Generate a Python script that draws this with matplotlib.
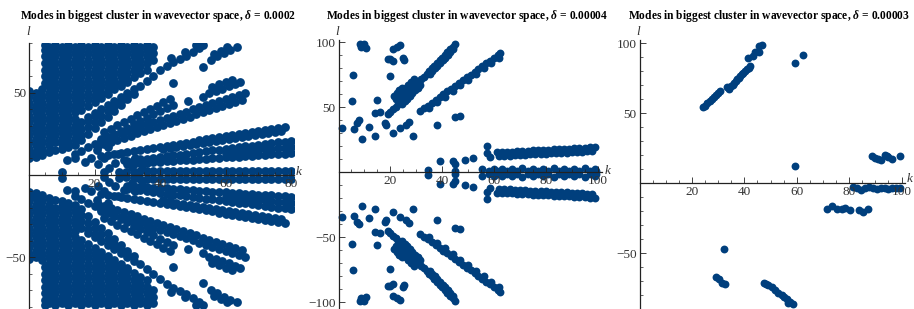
import matplotlib
matplotlib.use('Agg')
import matplotlib.pyplot as plt
from matplotlib.ticker import FixedLocator, MultipleLocator

plt.rcParams['font.family'] = 'Liberation Serif'
plt.rcParams['mathtext.fontset'] = 'custom'
plt.rcParams['mathtext.it'] = 'Liberation Serif:italic:bold'
plt.rcParams['mathtext.rm'] = 'Liberation Serif:bold'

dot_color = '#003f7d'

# ---- panel 1, delta = 0.0002 (upper half, the cluster is mirrored in l) ----
# dense fan in the upper left, as columns (k, [l ...])
p1_fan_cols = [
    (0, [10.5, 13, 16, 20, 24, 28, 32, 36, 40, 44, 48, 51]),
    (2, [11, 14, 18, 22, 26, 30, 34, 38, 42, 46, 50]),
    (4, [12, 16, 20, 24, 28, 32, 36, 40, 44, 48, 52]),
    (5, [56, 60, 64, 68, 72, 76, 79]),
    (6, [14, 18, 22, 26, 30, 34, 38, 42, 46, 50, 54, 58, 62, 66, 70, 74, 78]),
    (8, [15, 20, 24, 28, 32, 36, 40, 44, 48, 52, 56, 60, 64, 68, 72, 76, 79]),
    (10, [16, 19, 22, 26, 30, 34, 38, 42, 46, 50, 54, 58, 62, 66, 70, 74, 78]),
    (12, [17, 20, 24, 28, 32, 36, 40, 44, 48, 52, 56, 60, 64, 68, 72, 76, 79]),
    (14, [18, 22, 26, 30, 34, 38, 42, 46, 50, 54, 58, 62, 66, 70, 74, 78]),
    (16, [21, 24.5, 28, 32, 39.5, 44, 48, 52, 56, 60, 64, 68, 72, 76, 79]),
    (18, [25, 29, 33, 35, 42, 46, 50, 54, 58, 62, 66, 70, 74, 78]),
    (20, [28.5, 32, 36, 37.5, 44.5, 48, 52, 56, 60, 64, 68, 72, 76, 79]),
    (22, [32, 36, 40, 47, 50, 54, 58, 62, 66, 70, 74, 78]),
    (24, [35.5, 39, 42.5, 49.5, 52, 56, 60, 64, 68, 72, 76, 79]),
    (26, [39, 42, 45, 52, 55, 58, 62, 66, 70, 74, 78]),
    (28, [42.5, 45, 47.5, 54, 56, 60, 64, 68, 72, 76, 79]),
    (30, [46, 48, 50, 56.5, 58, 62, 66, 70, 74, 78]),
    (32, [49.5, 52.5, 59.5, 64, 68, 72, 76, 79]),
    (34, [54, 62, 66, 70, 74, 78]),
    (36, [57, 64, 68, 72, 76, 79]),
    (38, [60, 70, 74, 78]),
    (40, [63.5]),
]
p1_band_p = [(42, 66.5), (44, 68.5), (46, 70.5), (48, 72.5), (50, 75), (52, 77),
             (53, 79), (43.5, 71), (47.5, 74.5), (51, 79)]
p1_band_q = [(55.5, 70), (57.5, 72), (59.5, 74), (61.5, 76), (63.5, 77.5),
             (56.5, 73.5), (58.5, 75.5), (60.5, 77.5)]
p1_band_b = [(14, 12.8), (16, 14.8), (18, 16.8), (20, 18.8), (22, 20.8), (24, 22.8),
             (26, 24.8), (28, 26.8), (30, 28.8), (32, 30.8), (34, 32.8), (36, 34.8),
             (38, 36.8), (40, 38.8), (42, 40.8), (44, 42.8),
             (23, 26.2), (25, 28.2), (27, 30.2), (29, 32.2), (31, 34.2), (33, 36.2),
             (35, 38.2), (37, 40.2), (39, 42.2), (41, 44.2), (43, 46.2)]
p1_band_m2 = [(48.5, 45), (53.2, 47.6), (55, 49.6), (57, 51), (59, 52.4), (61, 53.8),
              (63, 55.3), (64.5, 56.5), (56, 53.5), (58, 55), (60, 56.4), (62, 57.8)]
p1_blobs = [(44, 55.7), (53.2, 65.8)]
p1_band_m1 = [(21, 17.5), (23, 18.8), (25, 20.1), (27, 21.4), (29, 22.7), (31, 23.9),
              (33, 25.2), (35, 26.5), (37, 27.8), (39, 29.1), (41, 30.4), (43, 31.7),
              (45, 33), (47, 34.2), (49, 35.5), (51, 36.8), (53, 38.1), (55, 39.4),
              (57, 40.7), (59, 42), (61, 43.3), (63, 44.6), (65, 45.8),
              (22, 21.7), (24, 23), (26, 24.3), (28, 25.6), (30, 26.9), (32, 28.2),
              (34, 29.5), (36, 30.8), (38, 32), (40, 33.3), (42, 34.6), (44, 35.9),
              (46, 37.2), (48, 38.5), (50, 39.8), (52, 41.1), (54, 42.4), (56, 43.6),
              (58, 44.9), (60, 46.2), (62, 47.5), (64, 48.8), (66, 50.1)]
p1_band_t1 = [(22, 11.4), (24, 12.1), (26, 12.7), (28, 13.3), (30, 14), (32, 14.6),
              (34, 15.2), (36, 15.9), (38, 16.5), (40, 17.2), (42, 17.8), (44, 18.4),
              (46, 19.1), (48, 19.7), (50, 20.3), (52, 21), (54, 21.6), (56, 22.2),
              (58, 22.9), (60, 23.5), (62, 24.1), (64, 24.8), (66, 25.4), (68, 26.1),
              (70, 26.7), (72, 27.3), (74, 28), (76, 28.6), (78, 29.2),
              (41, 15.5), (43, 16.1), (45, 16.8), (47, 17.4), (49, 18.1), (51, 18.7),
              (53, 19.3), (55, 20), (57, 20.6), (59, 21.2), (61, 21.9), (63, 22.5),
              (65, 23.1), (67, 23.8), (69, 24.4), (71, 25), (73, 25.7), (75, 26.3),
              (77, 26.9)]
p1_band_t2 = [(30, 6.7), (30, 8.5), (32, 6.9), (32, 8.9), (34, 7.2), (34, 9.4),
              (36, 7.4), (36, 9.9), (38, 7.7), (38, 10.5), (40, 7.9), (40, 10.9),
              (42, 8.2), (42, 11.4), (44, 8.5), (44, 11.9), (46, 8.8), (46, 12.4),
              (48, 9.1), (48, 12.9), (50, 9.3), (50, 13.3), (52, 9.6), (52, 13.9),
              (54, 9.8), (54, 14.4), (56, 10.1), (56, 14.9), (58, 10.3), (58, 15.3),
              (60, 10.6), (60, 13.2), (60, 15.8), (62, 10.9), (62, 13.6), (62, 16.3),
              (64, 11.2), (64, 14), (64, 16.8), (66, 11.5), (66, 14.4), (66, 17.3),
              (68, 11.7), (68, 14.7), (68, 17.7), (70, 12), (70, 15.1), (70, 18.3),
              (72, 12.2), (72, 15.5), (72, 18.8), (74, 12.5), (74, 15.9), (74, 19.3),
              (76, 12.8), (76, 16.3), (76, 19.8), (78, 13), (78, 16.6), (78, 20.2),
              (80, 13.3), (80, 17), (80, 20.7)]
p1_band_t3 = [(10, 2), (23, 1.5), (27.5, 2), (29.5, 1.5), (32, 2), (34, 2.5),
              (36, 2.5), (38, 2.5), (40, 2.5), (42, 2.5), (44, 2.5), (46, 2.5),
              (48, 2.5), (50, 2.5), (52, 2.5), (54, 2.5), (56, 2.5), (58, 2.5),
              (60, 2.5), (62, 2.5), (64, 2.5), (66, 2.5), (68, 2.5), (70, 2.5),
              (72, 2.5), (74, 2.5), (76, 2.5), (78, 2.5), (80, 2.5)]
p1_core = [(11.5, 9), (14, 10), (17, 8), (19, 10), (21, 6.5), (23, 10), (24.5, 4.5),
           (26.3, 7), (27.3, 13), (29, 9), (31.4, 5), (32.4, 10), (34.4, 6),
           (20.7, 15), (24.2, 17)]

# ---- panel 2, delta = 0.00004 (upper half, mirrored in l) ----
p2_scatter = [(1.2, 34.5), (5.7, 75), (5.1, 54.8), (6.1, 33.7), (7.3, 38.3), (8, 40),
              (8.2, 99), (8.5, 96.5), (10, 98.5), (10.5, 96), (9, 25.6), (11.9, 35),
              (14.1, 28), (15, 56), (14.1, 45.4), (16, 46.4), (18, 38.3), (18.2, 36.5),
              (19, 87), (19.9, 87.5), (21, 85.5), (19.9, 74.4), (21.2, 94.8),
              (22.7, 96.8), (23.7, 98), (20.9, 30.7), (25, 88), (25.2, 86.5),
              (23.7, 34.5), (26, 36.3), (27.3, 38.8), (28.9, 28.1), (37.9, 36.3),
              (45, 42.9), (46.9, 43.4)]
p2_steep = [(19.2, 44.7), (20, 46.4), (21, 48.5), (22, 50.6), (23, 52.7), (24, 54.8),
            (25, 56.9), (26, 59), (27, 61.1), (28, 63.2), (29, 65.3), (30, 67.4),
            (31, 69.5), (32, 71.6), (33, 73.7), (34, 75.7), (35, 77.9), (36, 80),
            (37, 82.1), (38, 84.2), (39, 86.3), (40, 88.4), (41, 90.5), (42, 92.6),
            (43, 94.7), (44, 96.8), (45, 98.9),
            (22, 56.9), (23, 59), (24, 61.1), (25, 63.2), (26, 65.3), (27, 67.4),
            (28, 69.5), (29, 71.6), (21.5, 59), (22.5, 61.1), (23.5, 63.2),
            (24.5, 65.3), (24.5, 52.7), (25.5, 54.8), (26.5, 56.9), (27.5, 59),
            (28.5, 61.1), (29.5, 63.2), (30.5, 65.3), (31.5, 67.4),
            (35.2, 75.7), (36.2, 77.9), (37.2, 80), (38.2, 82.1), (39.2, 84.2),
            (40.2, 86.3), (41.2, 88.4), (42.2, 90.5), (43.2, 92.6), (44.2, 94.7)]
p2_band = [(31.5, 47.2), (33, 49.4), (34.5, 51.5), (36, 53.7), (37.5, 55.8), (39, 58),
           (40.5, 60.2), (42, 62.3), (43.5, 64.5), (45, 66.6), (46.5, 68.8), (48, 71),
           (49.5, 73.1), (51, 75.3), (52.5, 77.4), (54, 79.6), (55.5, 81.8), (57, 83.9),
           (58.5, 86.1), (60, 88.2), (61.5, 90.4), (62.4, 91.8), (62.1, 88),
           (35, 49.7), (38, 54.1), (41, 58.4), (44, 62.7), (47, 67), (50, 71.3),
           (53, 75.7), (56, 80), (59, 84.3)]
p2_near_axis = [(34.7, 2), (39.2, 9), (44.3, 9), (45, 6.5), (45, 1), (48.8, 9.8),
                (52, 10.8), (55.3, 3), (57.2, 20.5), (57.5, 15), (58.5, 12)]
p2_flat = [(61, 15.5), (63, 15.7), (65, 15.9), (67, 16.1), (69, 16.3), (71, 16.6),
           (73, 16.8), (75, 17), (77, 17.2), (79, 17.4), (81, 17.6), (83, 17.8),
           (85, 18), (87, 18.2), (89, 18.4), (91, 18.7), (93, 18.9), (95, 19.1),
           (97, 19.3), (99, 19.5),
           (62, 12.6), (64, 12.8), (66, 13), (68, 13.2), (70, 13.5), (72, 13.7),
           (74, 13.9), (76, 14.1), (78, 14.3), (80, 14.5), (82, 14.7), (84, 14.9),
           (86, 15.1), (88, 15.3), (90, 15.6), (92, 15.8), (94, 16), (96, 16.2),
           (98, 16.4)]
p2_axis = [(58, 1.5), (60, 3), (61, 0.8), (63, 2.8), (65, 1), (67, 3), (69, 1),
           (71, 3.2), (73, 1), (75, 3), (77, 1), (79, 3), (81, 1), (83, 3.2), (85, 1),
           (87, 3), (89, 1), (91, 3), (93, 1), (95, 3.2), (97, 1), (99, 3), (99.5, 1)]

# ---- panel 3, delta = 0.00003 (no symmetry) ----
p3_band = [(24.4, 54.3), (25, 55.5), (25.9, 57.6), (26.8, 59), (27.6, 60.2),
           (28.4, 61.5), (29.2, 63), (30, 64.5), (30.7, 66.2), (33.5, 68.6),
           (34, 67.5), (34.8, 69.5), (35.5, 70.5), (36.1, 71.9), (36.7, 73),
           (37.3, 74.3), (37.9, 75.5), (38.4, 76.6), (39, 78), (39.6, 79), (40.3, 80),
           (40.9, 81.4), (41.6, 82.5), (42.2, 83.8), (41.3, 89.3), (43.2, 90.9),
           (44.1, 94), (45.6, 94), (45.7, 98), (46.6, 98.8)]
p3_blobs = [(59.4, 86.2), (62.3, 91.6), (59.4, 12.6), (32.3, -46.9)]
p3_right_top = [(88.6, 19.5), (89.9, 17.9), (91.1, 17.1), (92, 16.8), (93.7, 20.2),
                (94.5, 19.7), (95, 18.5), (96.2, 17.5), (99.4, 19.5)]
p3_axis = [(81.5, -2.5), (83, -3), (84.5, -4.5), (86, -3), (87.5, -2.8), (89, -3.5),
           (90.5, -4), (92, -3), (93.5, -3.5), (95, -4), (96.5, -3), (98, -3.5),
           (99.5, -3)]
p3_row = [(71.4, -18.4), (73.3, -16), (75.2, -18), (77.2, -18.6), (78.5, -17.4),
          (80.3, -19.1), (83.9, -19.1), (85.4, -20.2), (87.3, -18.4)]
p3_low_left = [(29.2, -67.2), (30.5, -68.6), (31.4, -71), (32.6, -72)]
p3_low_band = [(47.5, -71.4), (48.3, -72), (49.2, -72.6), (50.5, -74.3), (51.7, -76.2),
               (53, -78.1), (54.3, -80), (55.2, -81.5), (56.2, -82.9), (57.5, -84.5),
               (58.5, -86.2), (56.6, -85.7)]

titles = ['0.0002', '0.00004', '0.00003']


def collect(groups, mirror):
    ks, ls = [], []
    for g in groups:
        for k, l in g:
            ks.append(k)
            ls.append(l)
    if mirror:
        ks = ks + ks
        ls = ls + [-v for v in ls]
    return ks, ls


p1_cols_pts = [(k, l) for k, col in p1_fan_cols for l in col]
p1_k, p1_l = collect([p1_cols_pts, p1_band_p, p1_band_q, p1_band_b, p1_band_m2,
                      p1_blobs, p1_band_m1, p1_band_t1, p1_band_t2, p1_band_t3,
                      p1_core], True)
p2_k, p2_l = collect([p2_scatter, p2_steep, p2_band, p2_near_axis, p2_flat, p2_axis], True)
p3_k, p3_l = collect([p3_band, p3_blobs, p3_right_top, p3_axis, p3_row, p3_low_left,
                      p3_low_band], False)

W, H = 914, 309
fig = plt.figure(figsize=(W / 100, H / 100), dpi=100)

# axes boxes in pixels: left, right, top, plus limits
panels = [
    dict(k=p1_k, l=p1_l, box=(29, 294, 43), xlim=(0, 80.9), ylim=(-81.5, 80.2),
         xt=[20, 40, 60, 80], yt=[-50, 50], clip=True, tx=158, kxy=(299, 172), s=40),
    dict(k=p2_k, l=p2_l, box=(338.5, 602, 40), xlim=(0, 101.7), ylim=(-105, 101.9),
         xt=[20, 40, 60, 80, 100], yt=[-100, -50, 50, 100], clip=False, tx=467,
         kxy=(608, 171), s=32),
    dict(k=p3_k, l=p3_l, box=(639.5, 905, 40), xlim=(0, 101.3), ylim=(-89.8, 102.4),
         xt=[20, 40, 60, 80, 100], yt=[-50, 50, 100], clip=False, tx=769,
         kxy=(910, 179), s=32),
]

for p, d in zip(panels, titles):
    x0, x1, top = p['box']
    ax = fig.add_axes([x0 / W, 0, (x1 - x0) / W, (H - top) / H])
    ax.patch.set_alpha(0)
    ax.scatter(p['k'], p['l'], s=p['s'], color=dot_color, linewidths=0,
               clip_on=p['clip'], zorder=1)
    ax.set_xlim(*p['xlim'])
    ax.set_ylim(*p['ylim'])
    for side in ['top', 'right']:
        ax.spines[side].set_visible(False)
    ax.spines['bottom'].set_position(('data', 0))
    ax.spines['left'].set_position(('data', 0))
    for side in ['bottom', 'left']:
        ax.spines[side].set_color('#222222')
        ax.spines[side].set_linewidth(0.9)
    ax.xaxis.set_major_locator(FixedLocator(p['xt']))
    ax.xaxis.set_minor_locator(MultipleLocator(5))
    ax.yaxis.set_major_locator(FixedLocator(p['yt']))
    ax.yaxis.set_minor_locator(MultipleLocator(10))
    ax.tick_params(which='major', direction='in', length=4, width=0.6,
                   color='#222222', labelcolor='#333333', labelsize=9.5)
    ax.tick_params(which='minor', direction='in', length=2, width=0.5, color='#222222')
    ax.tick_params(axis='x', pad=2)
    ax.tick_params(axis='y', pad=2)
    fig.text(p['tx'] / W, 1 - 16 / H,
             'Modes in biggest cluster in wavevector space, $\\delta$ = ' + d,
             fontsize=8.3, fontweight='bold', ha='center', va='center')
    fig.text((x0 - 1) / W, 1 - 32 / H, 'l', fontsize=9.5, fontstyle='italic',
             color='#333333', ha='center', va='center')
    kx, ky = p['kxy']
    fig.text(kx / W, 1 - ky / H, 'k', fontsize=9.5, fontstyle='italic',
             color='#333333', ha='center', va='center')

fig.savefig('out.png', dpi=100)
